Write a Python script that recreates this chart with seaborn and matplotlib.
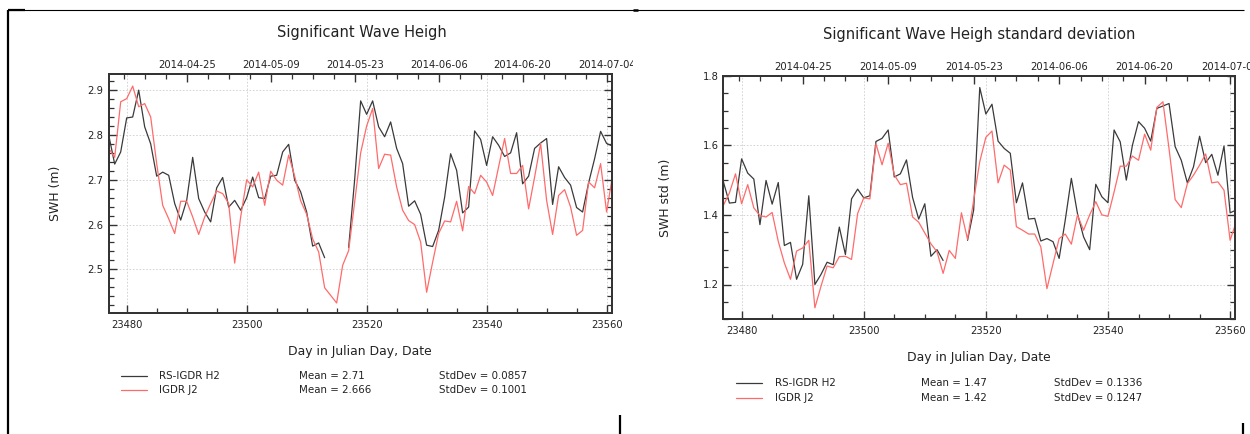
import numpy as np
import pandas as pd
import matplotlib
matplotlib.use("Agg")
import matplotlib.pyplot as plt
import seaborn as sns
from matplotlib.lines import Line2D
from matplotlib.patches import Rectangle
from matplotlib.ticker import MultipleLocator, FixedLocator

# ---------------- data ----------------
days_full = list(range(23477, 23562))          # IGDR J2 (continuous)
days_h2_a = list(range(23477, 23514))          # RS-IGDR H2, first segment
days_h2_b = list(range(23517, 23562))          # RS-IGDR H2, second segment

swh_h2_a = [2.80, 2.735, 2.762, 2.838, 2.84, 2.90, 2.818, 2.78, 2.708, 2.717,
            2.71, 2.647, 2.61, 2.654, 2.75, 2.658, 2.628, 2.606, 2.682, 2.705,
            2.639, 2.654, 2.632, 2.66, 2.706, 2.66, 2.658, 2.708, 2.71, 2.762,
            2.779, 2.699, 2.673, 2.628, 2.552, 2.559, 2.526]
swh_h2_b = [2.549, 2.70, 2.876, 2.846, 2.876, 2.818, 2.796, 2.829, 2.77, 2.736,
            2.641, 2.653, 2.623, 2.554, 2.551, 2.587, 2.661, 2.758, 2.721, 2.626,
            2.639, 2.809, 2.79, 2.732, 2.796, 2.777, 2.752, 2.76, 2.805, 2.691,
            2.708, 2.77, 2.782, 2.792, 2.645, 2.729, 2.705, 2.688, 2.638, 2.628,
            2.693, 2.747, 2.808, 2.781, 2.775]
swh_j2 = [2.77, 2.75, 2.874, 2.881, 2.909, 2.863, 2.87, 2.84, 2.736, 2.643,
          2.613, 2.58, 2.652, 2.652, 2.617, 2.578, 2.617, 2.647, 2.675, 2.669,
          2.647, 2.514, 2.617, 2.70, 2.684, 2.717, 2.643, 2.719, 2.699, 2.688,
          2.755, 2.708, 2.653, 2.623, 2.568, 2.539, 2.459, 2.442, 2.425, 2.509,
          2.542, 2.65, 2.76, 2.82, 2.859, 2.725, 2.757, 2.755, 2.684, 2.632,
          2.609, 2.60, 2.561, 2.449, 2.516, 2.58, 2.608, 2.606, 2.652, 2.586,
          2.685, 2.669, 2.71, 2.695, 2.665, 2.729, 2.792, 2.714, 2.714, 2.732,
          2.635, 2.706, 2.781, 2.654, 2.578, 2.665, 2.678, 2.639, 2.576, 2.587,
          2.695, 2.682, 2.736, 2.628, 2.71]

std_h2_a = [1.496, 1.434, 1.436, 1.561, 1.52, 1.503, 1.372, 1.499, 1.431, 1.493,
            1.312, 1.321, 1.215, 1.258, 1.455, 1.20, 1.229, 1.264, 1.257, 1.365,
            1.286, 1.446, 1.474, 1.449, 1.455, 1.611, 1.62, 1.644, 1.509, 1.518,
            1.558, 1.45, 1.388, 1.432, 1.281, 1.30, 1.269]
std_h2_b = [1.327, 1.414, 1.766, 1.69, 1.718, 1.612, 1.591, 1.577, 1.435, 1.492,
            1.388, 1.39, 1.325, 1.332, 1.323, 1.275, 1.385, 1.505, 1.404, 1.337,
            1.30, 1.488, 1.452, 1.435, 1.644, 1.61, 1.50, 1.60, 1.668, 1.649,
            1.612, 1.706, 1.713, 1.72, 1.596, 1.557, 1.492, 1.538, 1.626, 1.55,
            1.574, 1.514, 1.598, 1.406, 1.414]
std_j2 = [1.427, 1.463, 1.518, 1.432, 1.487, 1.42, 1.398, 1.394, 1.407, 1.324,
          1.262, 1.215, 1.296, 1.305, 1.327, 1.133, 1.195, 1.253, 1.248, 1.28,
          1.281, 1.272, 1.404, 1.449, 1.446, 1.604, 1.544, 1.606, 1.515, 1.487,
          1.491, 1.394, 1.379, 1.348, 1.317, 1.294, 1.232, 1.298, 1.275, 1.406,
          1.33, 1.442, 1.553, 1.623, 1.641, 1.492, 1.543, 1.529, 1.366, 1.356,
          1.345, 1.345, 1.308, 1.188, 1.26, 1.332, 1.345, 1.316, 1.40, 1.356,
          1.40, 1.438, 1.40, 1.396, 1.466, 1.54, 1.54, 1.569, 1.557, 1.632,
          1.586, 1.709, 1.725, 1.59, 1.444, 1.421, 1.49, 1.514, 1.543, 1.575,
          1.492, 1.495, 1.471, 1.327, 1.38]

date_days = [23490, 23504, 23518, 23532, 23546, 23560]
date_labels = ["2014-04-25", "2014-05-09", "2014-05-23", "2014-06-06",
               "2014-06-20", "2014-07-04"]

series_names = ["RS-IGDR H2", "IGDR J2"]
swh_stats = [("Mean = 2.71", "StdDev = 0.0857"), ("Mean = 2.666", "StdDev = 0.1001")]
std_stats = [("Mean = 1.47", "StdDev = 0.1336"), ("Mean = 1.42", "StdDev = 0.1247")]

# ---------------- style ----------------
sns.set_style("white")
plt.rcParams["font.family"] = ["DejaVu Sans"]

BLACK = "#3a3a3a"
RED = "#ff6b6b"
SPINE = "#333333"
TXT = "#222222"

W, H = 1250, 434
fig = plt.figure(figsize=(W / 100, H / 100), dpi=100)
fig.patch.set_facecolor("white")


def fx(x):
    return x / W


def fy(y):
    return 1 - y / H


def panel(rect, h2a, h2b, j2, ylim, ymaj, ymin, ylabel, title, title_xy,
          ylab_x, xlab_y, top_pad, bottom_pad, left_pad, leg, stats):
    x0, y0, x1, y1 = rect
    ax = fig.add_axes([fx(x0), fy(y1), fx(x1 - x0), (y1 - y0) / H])
    df_h2 = pd.DataFrame({
        "day": days_h2_a + days_h2_b,
        "val": h2a + h2b,
        "seg": [0] * len(days_h2_a) + [1] * len(days_h2_b),
    })
    df_j2 = pd.DataFrame({"day": days_full, "val": j2})
    sns.lineplot(data=df_h2, x="day", y="val", units="seg", estimator=None,
                 color=BLACK, lw=0.9, ax=ax)
    sns.lineplot(data=df_j2, x="day", y="val", estimator=None,
                 color=RED, lw=0.9, ax=ax)
    ax.set_xlim(23477, 23560.85)
    ax.set_ylim(*ylim)
    ax.xaxis.set_major_locator(MultipleLocator(20))
    ax.xaxis.set_minor_locator(MultipleLocator(5))
    ax.yaxis.set_major_locator(MultipleLocator(ymaj))
    ax.yaxis.set_minor_locator(MultipleLocator(ymin))
    ax.grid(True, which="major", ls=(0, (2, 2)), color="#cfcfcf", lw=0.6)
    ax.tick_params(which="both", direction="in", top=False, right=True,
                   left=True, bottom=True, colors=SPINE, labelcolor=TXT)
    ax.tick_params(which="major", length=5.5, width=1.0, labelsize=7.2)
    ax.tick_params(which="minor", length=3.5, width=0.9)
    ax.tick_params(axis="x", pad=bottom_pad)
    ax.tick_params(axis="y", pad=left_pad)
    for s in ax.spines.values():
        s.set_color(SPINE)
        s.set_linewidth(1.3)
        s.set_visible(True)
    ax.set_xlabel("Day in Julian Day, Date", fontsize=8.9, color=TXT)
    ax.xaxis.label.set_va("center")
    ax.xaxis.set_label_coords(0.5, -(xlab_y - y1) / (y1 - y0))
    ax.set_ylabel(ylabel, fontsize=8.9, color=TXT)
    ax.yaxis.label.set_va("center")
    ax.yaxis.set_label_coords(-(x0 - ylab_x) / (x1 - x0), 0.5)

    ax2 = ax.twiny()
    ax2.set_xlim(ax.get_xlim())
    ax2.xaxis.set_major_locator(FixedLocator(date_days))
    ax2.set_xticklabels(date_labels)
    ax2.xaxis.set_minor_locator(FixedLocator(list(np.arange(23479.5, 23562, 3.5))))
    ax2.tick_params(which="both", direction="in", colors=SPINE, labelcolor=TXT)
    ax2.tick_params(which="major", length=5.5, width=1.0, labelsize=7.2, pad=top_pad)
    ax2.tick_params(which="minor", length=3.5, width=0.9)
    for s in ax2.spines.values():
        s.set_color(SPINE)
        s.set_linewidth(1.3)

    fig.text(fx(title_xy[0]), fy(title_xy[1]), title, ha="center", va="center",
             fontsize=10.5, color=TXT)

    # legend block
    lx0, lx1, tx, mx, sx, ry = leg
    for i, (name, col) in enumerate(zip(series_names, [BLACK, RED])):
        y = ry[i]
        fig.add_artist(Line2D([fx(lx0), fx(lx1)], [fy(y), fy(y)], color=col, lw=0.9))
        fig.text(fx(tx), fy(y), name, va="center", ha="left", fontsize=7.4, color=TXT)
        fig.text(fx(mx), fy(y), stats[i][0], va="center", ha="left", fontsize=7.4, color=TXT)
        fig.text(fx(sx), fy(y), stats[i][1], va="center", ha="left", fontsize=7.4, color=TXT)
    return ax


panel((108.7, 74, 611.7, 313.3), swh_h2_a, swh_h2_b, swh_j2, (2.402, 2.936), 0.1, 0.02,
      "SWH (m)", "Significant Wave Heigh", (362, 33), 56, 351, 3.0, 5.0, 4.0,
      (121, 147, 159, 299, 439, (376, 390)), swh_stats)
panel((723.3, 75.7, 1235.3, 319.3), std_h2_a, std_h2_b, std_j2, (1.10, 1.80), 0.2, 0.05,
      "SWH std (m)", "Significant Wave Heigh standard deviation", (979, 34), 666, 357,
      2.5, 5.0, 3.5, (736, 762, 775, 921, 1054, (383, 398)), std_stats)

# clip the left panel's last date label (separate image boundary)
fig.add_artist(Rectangle((fx(633), fy(75)), fx(60), 30 / H, transform=fig.transFigure,
                         facecolor="white", edgecolor="none", zorder=5))

# frame fragments from the original composite
def seg(x0, y0, x1, y1, lw):
    fig.add_artist(Line2D([fx(x0), fx(x1)], [fy(y0), fy(y1)], color="black", lw=lw,
                          solid_capstyle="butt", zorder=6))

seg(8, 9.5, 8, 434, 1.6)
seg(8, 9.5, 1244, 9.5, 0.8)
seg(8, 9.5, 25, 9.5, 1.6)
seg(633, 9.5, 638, 9.5, 1.8)
seg(620, 415, 620, 434, 1.6)
seg(1243, 423, 1243, 434, 1.6)

fig.savefig("out.png", dpi=100, facecolor="white")
